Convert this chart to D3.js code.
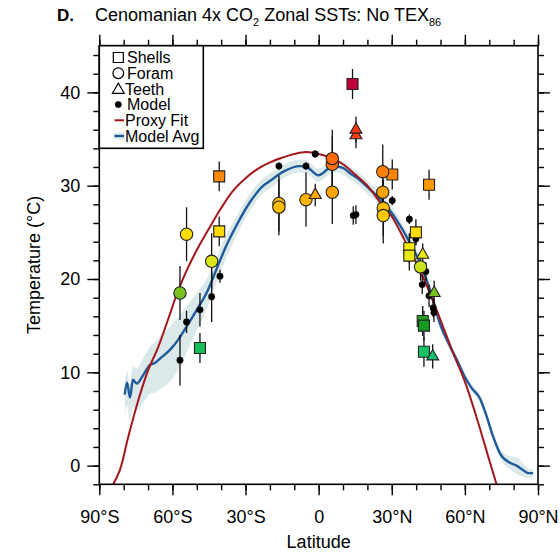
<!DOCTYPE html>
<html><head><meta charset="utf-8">
<script src="https://cdn.jsdelivr.net/npm/d3@7"></script>
<style>
body{margin:0;background:#fff}
text{font-family:"Liberation Sans",Arial,Helvetica,sans-serif;fill:#000}
</style>
</head><body>
<svg id="chart" width="560" height="552"></svg>
<script>
// ---------- data ----------
const xMajorTicks = [-90,-60,-30,0,30,60,90];
const xTickLabels = ["90°S","60°S","30°S","0","30°N","60°N","90°N"];
const xMinorTicks = [-90,-80,-70,-60,-50,-40,-30,-20,-10,0,10,20,30,40,50,60,70,80,90];
const yMajorTicks = [0,10,20,30,40];
const yTickLabels = ["0","10","20","30","40"];
const yMinorTicks = [-2,0,2,4,6,8,10,12,14,16,18,20,22,24,26,28,30,32,34,36,38,40,42,44];

// Proxy fit curve (latitude, temperature)
const proxyLat  = [-84.3,-81.6,-78,-74,-70,-66,-62,-58,-54,-50,-45,-40,-35,-30,-25,-20,-15,-10,-5,0,5,10,15,20,25,30,35,40,45,50,55,60,65,70,73];
const proxyTemp = [-2.0,-0.5,3.2,7.0,10.2,12.6,15.5,18.5,21.0,23.1,25.4,27.6,29.5,30.8,31.8,32.5,33.0,33.4,33.6,33.4,33.0,32.3,31.2,30.0,28.3,26.7,24.3,21.8,18.9,15.6,12.2,9.0,5.0,0.6,-2.0];

// Model zonal average and its spread (below / above)
const modelLat    = [-79.6,-78.6,-77.4,-76.2,-74.7,-72,-69.2,-67.2,-65,-61,-57.6,-54.2,-50,-46,-42,-38,-34,-28,-22.7,-20,-14.5,-7.7,-4.9,-2,-0.2,1.5,3.3,6,10,13,16,21,26,32,36.8,41.6,45.7,49.8,53.9,57.3,60,62.8,66.2,68.9,71.6,74.4,78.5,81.2,84,86,88];
const modelAvg    = [7.6,8.9,7.3,9.2,8.8,9.7,10.8,11.0,11.5,12.4,13.5,14.9,16.7,18.5,21.0,23.5,25.6,28.3,30.0,30.5,31.5,32.1,32.0,31.4,31.1,31.3,31.7,32.1,31.9,31.3,30.8,29.6,28.4,26.3,24.2,21.7,18.8,15.2,12.8,11.0,9.5,8.3,7.2,5.3,3.1,1.3,0.3,0.0,-0.5,-0.8,-0.8];
const modelBelow  = [2.0,2.5,2.6,2.8,2.9,3.0,3.1,3.2,3.3,3.4,3.2,2.8,2.2,1.8,1.5,1.3,1.1,0.9,0.8,0.8,0.7,0.7,0.7,0.7,0.7,0.7,0.7,0.7,0.7,0.7,0.7,0.7,0.7,0.7,0.6,0.6,0.6,0.5,0.5,0.4,0.4,0.4,0.4,0.4,0.4,0.5,0.7,0.9,0.7,0.5,0.4];
const modelAbove  = [1.2,1.2,1.4,1.5,1.6,1.8,2.0,2.2,2.4,2.5,2.4,2.2,1.8,1.5,1.3,1.2,1.0,0.9,0.8,0.8,0.7,0.7,0.7,0.7,0.7,0.7,0.7,0.7,0.7,0.7,0.7,0.7,0.7,0.7,0.6,0.6,0.6,0.5,0.5,0.4,0.4,0.4,0.4,0.4,0.4,0.5,0.7,0.9,0.7,0.5,0.4];

// Proxy data: [latitude, temperature, error]
const shells = [
  [-40.8,31.0,1.6],[-40.8,25.1,1.6],[-48.7,12.6,1.6],[13.9,40.9,1.6],
  [30.2,31.2,1.6],[45.3,30.1,1.6],[39.9,25.0,1.4],[37.2,23.3,1.6],
  [37.2,22.5,1.6],[42.7,15.5,1.6],[43.2,15.0,1.6],[43.2,12.2,1.6]
];
const forams = [
  [-54.2,24.8,2.9],[-43.9,21.9,3.0],[-56.9,18.5,2.9],[-16.3,28.1,3.0],
  [-16.3,27.7,3.0],[-5.2,28.5,2.9],[5.6,29.3,3.4],[5.6,32.3,3.0],[5.6,32.9,3.1],
  [26.3,31.5,2.9],[26.3,29.3,3.0],[26.5,27.6,3.0],[26.5,26.8,3.0],[41.8,21.3,1.5]
];
const teeth = [
  [-1.4,29.0,1.2],[15.3,35.4,1.4],[15.3,36.0,1.4],[42.7,22.6,1.2],
  [47.4,18.5,1.3],[46.8,11.7,1.3]
];
const model = [
  [-40.5,20.3,0.7],[-43.9,18.1,2.7],[-54.2,15.4,1.2],[-48.7,16.7,1.8],
  [-56.9,11.3,2.7],[-16.3,32.1,0.4],[-5.2,32.1,0.4],[-1.4,33.4,0.4],
  [14.2,26.8,1.0],[15.3,26.9,1.0],[30.2,28.4,0.5],[37.2,26.4,0.5],
  [39.9,24.3,0.6],[44.0,20.8,1.0],[42.5,19.4,1.0],[45.3,18.2,1.2],
  [47.0,16.9,1.0],[47.3,16.4,1.0]
];

// colour scale for proxy symbols (by temperature)
const colorTemps = [10.5,12,15,18.5,21.5,23.5,25,28,30.5,32.5,35.5,41];
const colorHex   = ["#10b090","#18c468","#169c22","#78c21e","#d2e420","#ffee00","#ffdc00","#ffba00","#ff9000","#ff7010","#ff3a10","#c0003c"];

const legendItems = ["Shells","Foram","Teeth","Model","Proxy Fit","Model Avg"];

// ---------- drawing ----------
const svg = d3.select("#chart");
const L = 99.3, R = 538, T = 45.7, B = 484.3;
const x = d3.scaleLinear().domain([-90,90]).range([L,R]);
const y = d3.scaleLinear().domain([-2,45]).range([B,T]);
const col = d3.scaleLinear().domain(colorTemps).range(colorHex).interpolate(d3.interpolateRgb).clamp(true);

svg.append("defs").append("clipPath").attr("id","clip")
  .append("rect").attr("x",L).attr("y",T).attr("width",R-L).attr("height",B-T);
const plot = svg.append("g").attr("clip-path","url(#clip)");

// band
const bandData = modelLat.map((d,i)=>({lat:d, lo:modelAvg[i]-modelBelow[i], hi:modelAvg[i]+modelAbove[i], v:modelAvg[i]}));
plot.append("path").datum(bandData)
  .attr("d", d3.area().x(d=>x(d.lat)).y0(d=>y(d.lo)).y1(d=>y(d.hi)).curve(d3.curveMonotoneX))
  .attr("fill","#dbe9ea");
plot.append("path").datum(bandData)
  .attr("d", d3.line().x(d=>x(d.lat)).y(d=>y(d.v)).curve(d3.curveMonotoneX))
  .attr("fill","none").attr("stroke","#1f5b99").attr("stroke-width",2.4);

// proxy fit
const proxyData = proxyLat.map((d,i)=>({lat:d, v:proxyTemp[i]}));
plot.append("path").datum(proxyData)
  .attr("d", d3.line().x(d=>x(d.lat)).y(d=>y(d.v)).curve(d3.curveCatmullRom))
  .attr("fill","none").attr("stroke","#a3161b").attr("stroke-width",2);

// error bars
const allPts = [].concat(model, shells, forams, teeth);
plot.append("g").selectAll("line").data(allPts).join("line")
  .attr("x1",d=>x(d[0])).attr("x2",d=>x(d[0]))
  .attr("y1",d=>y(d[1]-d[2])).attr("y2",d=>y(d[1]+d[2]))
  .attr("stroke","#111").attr("stroke-width",1.3);

// model dots
plot.append("g").selectAll("circle").data(model).join("circle")
  .attr("cx",d=>x(d[0])).attr("cy",d=>y(d[1])).attr("r",3.4).attr("fill","#000");

const sym = (type,size)=>d3.symbol().type(type).size(size)();
function drawSyms(data,type,size){
  plot.append("g").selectAll("path").data(data).join("path")
    .attr("d", sym(type,size))
    .attr("transform", d=>`translate(${x(d[0])},${y(d[1])})`)
    .attr("fill", d=>col(d[1])).attr("stroke","#222").attr("stroke-width",1.1);
}
drawSyms(shells, d3.symbolSquare, 121);
drawSyms(forams, d3.symbolCircle, 120);
drawSyms(teeth, d3.symbolTriangle, 62);

// axes
const tickStyle = g=>{ g.select(".domain").remove(); g.selectAll("line").attr("stroke","#000").attr("stroke-width",1.4); g.selectAll("text").style("font-size","18px").attr("fill","#000"); };
svg.append("g").attr("transform",`translate(0,${B})`)
  .call(d3.axisBottom(x).tickValues(xMinorTicks).tickSize(6).tickSizeOuter(0).tickFormat("")).call(tickStyle);
svg.append("g").attr("transform",`translate(0,${B})`)
  .call(d3.axisBottom(x).tickValues(xMajorTicks).tickSize(11).tickSizeOuter(0).tickPadding(15).tickFormat((d,i)=>xTickLabels[i])).call(tickStyle);
svg.append("g").attr("transform",`translate(0,${T})`)
  .call(d3.axisTop(x).tickValues(xMinorTicks).tickSize(6).tickSizeOuter(0).tickFormat("")).call(tickStyle);
svg.append("g").attr("transform",`translate(0,${T})`)
  .call(d3.axisTop(x).tickValues(xMajorTicks).tickSize(11).tickSizeOuter(0).tickFormat("")).call(tickStyle);
svg.append("g").attr("transform",`translate(${L},0)`)
  .call(d3.axisLeft(y).tickValues(yMinorTicks).tickSize(6).tickSizeOuter(0).tickFormat("")).call(tickStyle);
svg.append("g").attr("transform",`translate(${L},0)`)
  .call(d3.axisLeft(y).tickValues(yMajorTicks).tickSize(12).tickSizeOuter(0).tickPadding(7).tickFormat((d,i)=>yTickLabels[i])).call(tickStyle);
svg.append("g").attr("transform",`translate(${R},0)`)
  .call(d3.axisRight(y).tickValues(yMinorTicks).tickSize(6).tickSizeOuter(0).tickFormat("")).call(tickStyle);
svg.append("g").attr("transform",`translate(${R},0)`)
  .call(d3.axisRight(y).tickValues(yMajorTicks).tickSize(12).tickSizeOuter(0).tickFormat("")).call(tickStyle);

svg.append("rect").attr("x",L).attr("y",T).attr("width",R-L).attr("height",B-T)
  .attr("fill","none").attr("stroke","#000").attr("stroke-width",1.6);

// axis titles
svg.append("text").attr("x",(L+R)/2).attr("y",548).attr("text-anchor","middle").style("font-size","18px").text("Latitude");
svg.append("text").attr("transform",`translate(40,${(T+B)/2}) rotate(-90)`).attr("text-anchor","middle").style("font-size","18px").text("Temperature (°C)");

// title
svg.append("text").attr("x",57).attr("y",21).style("font-size","17px").style("font-weight","bold").text("D.");
const tt = svg.append("text").attr("x",95).attr("y",21).style("font-size","18px");
tt.append("tspan").text("Cenomanian 4x CO");
tt.append("tspan").attr("dy",5).style("font-size","11px").text("2");
tt.append("tspan").attr("dy",-5).text(" Zonal SSTs: No TEX");
tt.append("tspan").attr("dy",5).style("font-size","11px").text("86");

// legend
const lg = svg.append("g");
const lgTop = T, lgBottom = 148.3, lgRight = 203.3;
lg.append("rect").attr("x",L).attr("y",lgTop).attr("width",lgRight-L).attr("height",lgBottom-lgTop)
  .attr("fill","#fff").attr("stroke","#000").attr("stroke-width",1.6);
const ly = d3.scalePoint().domain(legendItems).range([57.5,136]);
const sx = 118.3;
lg.append("path").attr("d",sym(d3.symbolSquare,100)).attr("transform",`translate(${sx},${ly("Shells")})`).attr("fill","none").attr("stroke","#000").attr("stroke-width",1.2);
lg.append("path").attr("d",sym(d3.symbolCircle,90)).attr("transform",`translate(${sx},${ly("Foram")})`).attr("fill","none").attr("stroke","#000").attr("stroke-width",1.2);
lg.append("path").attr("d",sym(d3.symbolTriangle,60)).attr("transform",`translate(${sx},${ly("Teeth")+1})`).attr("fill","none").attr("stroke","#000").attr("stroke-width",1.2);
lg.append("circle").attr("cx",sx).attr("cy",ly("Model")).attr("r",3.3).attr("fill","#000");
lg.append("line").attr("x1",114.5).attr("x2",124).attr("y1",ly("Proxy Fit")).attr("y2",ly("Proxy Fit")).attr("stroke","#a3161b").attr("stroke-width",2);
lg.append("rect").attr("x",114).attr("width",10.5).attr("y",ly("Model Avg")-3.5).attr("height",7).attr("fill","#dbe9ea");
lg.append("line").attr("x1",114.5).attr("x2",124).attr("y1",ly("Model Avg")).attr("y2",ly("Model Avg")).attr("stroke","#1f5b99").attr("stroke-width",2.4);
lg.selectAll("text.li").data(legendItems).join("text").attr("class","li")
  .attr("x",d=> (d==="Shells"||d==="Foram"||d==="Model") ? 127 : 125)
  .attr("y",d=>ly(d)).attr("dy","0.35em").style("font-size","16px").text(d=>d);
</script>
</body></html>
